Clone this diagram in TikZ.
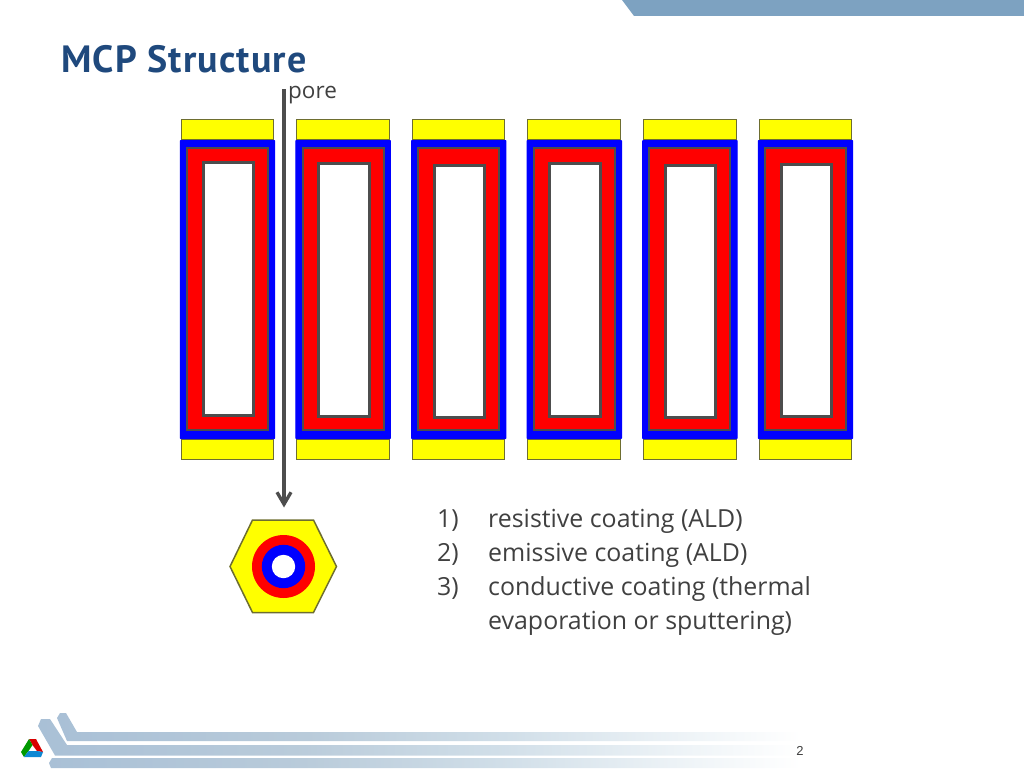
\documentclass[tikz,border=0pt]{standalone}
\usepackage{fontspec}
\setmainfont{Open Sans}
\newfontfamily\titlefont[LetterSpace=3]{PT Sans}
\newfontfamily\numfont{Liberation Sans}
\usetikzlibrary{calc}
\usetikzlibrary{arrows.meta}

\definecolor{barblue}{HTML}{7DA2C1}
\definecolor{footblue}{HTML}{A9C0D6}
\definecolor{footmida}{HTML}{B9CBDA}
\definecolor{footmidb}{HTML}{D0DEE8}
\definecolor{footmidc}{HTML}{F0F5F8}
\definecolor{titleblue}{HTML}{1F497D}
\definecolor{textgray}{HTML}{404040}
\definecolor{linegray}{HTML}{4D4D4D}
\definecolor{capyellow}{RGB}{255,255,0}
\definecolor{capedge}{HTML}{6E6E30}

\pgfdeclarehorizontalshading{footfade}{100bp}{color(0bp)=(footblue); color(25bp)=(footblue); color(41bp)=(footmida); color(53.5bp)=(footmidb); color(66bp)=(footmidc); color(72.5bp)=(white); color(100bp)=(white)}

\tikzset{
  endcap/.style={fill=capyellow, draw=capedge, line width=0.8pt},
  coating/.style={fill=blue, draw=blue, line width=1pt, rounded corners=0.5pt},
  resistive/.style={fill=red, draw=linegray, line width=2pt},
  hole/.style={fill=white, draw=linegray, line width=3pt},
  listlabel/.style={anchor=base west, text=textgray, inner sep=0pt, font=\fontsize{24.9}{30}\selectfont},
  footbar/.style={shading=footfade, draw=none},
}

\begin{document}
\begin{tikzpicture}[x=1pt, y=-1pt]
  \useasboundingbox (0,0) rectangle (1024,768);

  % top band and footer
  \fill[barblue] (622,0) -- (634,16) -- (1024,16) -- (1024,0) -- cycle;
  \shade[footbar] (57,718) -- (60,713) -- (66,713) -- (77,732) -- (840,732) -- (840,741) -- (67,741) -- cycle;
  \shade[footbar] (38,726) -- (41,719) -- (50,719) -- (67,745) -- (840,745) -- (840,755.5) -- (55,755.5) -- cycle;
  \shade[footbar] (49,763) -- (52,758) -- (840,758) -- (840,768) -- (51,768) -- cycle;

  % logo
  \coordinate (logoa) at (29,739);
  \coordinate (logob) at (36,739);
  \coordinate (logoc) at (43,752);
  \coordinate (logod) at (41,757);
  \coordinate (logoe) at (24,757);
  \coordinate (logof) at (21,752);
  \coordinate (innera) at (32.5,745);
  \coordinate (innerb) at (37,751);
  \coordinate (innerc) at (28.5,751);
  \fill[red!85!black] (logoa) -- (logob) -- (logoc) -- (innerb) -- (innera) -- cycle;
  \fill[green!60!black] (logoa) -- (innera) -- (innerc) -- (logoe) -- (logof) -- cycle;
  \fill[cyan!70!blue] (innerc) -- (innerb) -- (logoc) -- (logod) -- (logoe) -- cycle;

  % plate cross section
  \foreach \x/\top/\bot [count=\i] in {0/162/415, 115.6/163/416, 231.2/165/417, 346.8/163/416, 462.4/165/417, 578/164/416} {
    \draw[endcap] ($(181,119.5)+(\x,0)$) rectangle ($(273.5,139.5)+(\x,0)$);
    \draw[endcap] ($(181,439)+(\x,0)$) rectangle ($(273.5,459)+(\x,0)$);
    \draw[coating] ($(180.3,140.5)+(\x,0)$) rectangle ($(274.7,438.5)+(\x,0)$);
    \draw[resistive] ($(187,147.5)+(\x,0)$) rectangle ($(268,429.5)+(\x,0)$);
    \draw[hole] ($(203,\top)+(\x,0)$) rectangle ($(253.5,\bot)+(\x,0)$);
  }

  % single pore seen from the end
  \coordinate (hexa) at (230,566.5);
  \coordinate (hexb) at (252.5,520);
  \coordinate (hexc) at (313.5,520);
  \coordinate (hexd) at (336.5,566.5);
  \coordinate (hexe) at (313.5,612.5);
  \coordinate (hexf) at (252.5,612.5);
  \coordinate (porecentre) at (283.5,566.5);
  \draw[fill=capyellow, draw=capedge, line width=1.5pt] (hexa) -- (hexb) -- (hexc) -- (hexd) -- (hexe) -- (hexf) -- cycle;
  \fill[red] (porecentre) circle (31.5);
  \fill[blue] (porecentre) circle (21.7);
  \fill[white] (porecentre) circle (11.7);

  \coordinate (porestart) at (284,89);
  \coordinate (poreend) at (284,507.5);
  \draw[-{Straight Barb[length=12pt, width=14pt, line width=3.3pt]}, draw=linegray, line width=3.3pt] (porestart) -- (poreend);

  \node[anchor=base west, text=titleblue, inner sep=0pt, font=\fontsize{38}{42}\titlefont\bfseries] (title) at (61,72) {MCP Structure};
  \node[anchor=base west, text=textgray, inner sep=0pt, font=\fontsize{22.5}{26}\selectfont] (porelabel) at (288,98.5) {pore};

  \node[listlabel] (numa) at (437,527.5) {1)};
  \node[listlabel] (numb) at (437,561.5) {2)};
  \node[listlabel] (numc) at (437,595.5) {3)};
  \node[listlabel] (itema) at (488,527.5) {resistive coating (ALD)};
  \node[listlabel] (itemb) at (488,561.5) {emissive coating (ALD)};
  \node[listlabel] (itemc) at (488,595.5) {conductive coating (thermal};
  \node[listlabel] (itemd) at (488,629.5) {evaporation or sputtering)};

  \node[text=textgray, inner sep=0pt, font=\fontsize{13}{15}\numfont] (pagenum) at (800,751) {2};
\end{tikzpicture}
\end{document}
